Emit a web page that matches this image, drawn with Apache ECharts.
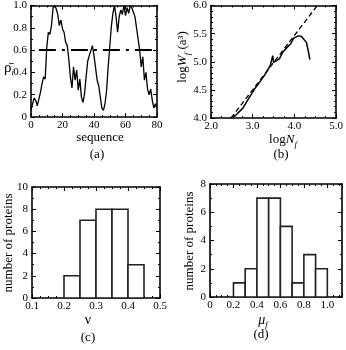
<!DOCTYPE html>
<html>
<head>
<meta charset="utf-8">
<script src="https://cdn.jsdelivr.net/npm/echarts@6/dist/echarts.min.js"></script>
<style>html,body{margin:0;padding:0;background:#fff;}#c{width:346px;height:350px;}</style>
</head>
<body>
<div id="c"></div>
<script>
// (a) averaged density along the sequence
const rhoValues = [0.06,0.12,0.17,0.15,0.10,0.16,0.22,0.30,0.36,0.34,
  0.62,0.76,0.74,0.82,0.98,1.00,0.97,0.92,0.82,0.87,
  0.79,0.76,0.67,0.64,0.52,0.36,0.26,0.45,0.33,0.42,
  0.24,0.34,0.18,0.13,0.21,0.36,0.50,0.55,0.54,0.64,
  0.55,0.44,0.33,0.28,0.18,0.08,0.06,0.12,0.24,0.45,
  0.63,0.81,0.93,1.00,0.90,0.76,0.90,0.96,0.92,1.00,
  0.91,0.98,0.93,1.00,0.98,0.94,0.90,0.80,0.70,0.60,
  0.45,0.54,0.33,0.40,0.25,0.20,0.25,0.15,0.08,0.12,0.08];
const thresholdX = [5, 80];
const thresholdY = [0.6, 0.6];
// (b) log W_f vs log N_f
const logN = [2.47,2.58,2.77,2.89,3.04,3.19,3.30,3.42,3.48,3.50,3.57,3.64,3.72,3.83,3.91,3.98,4.10,4.17,4.29,4.33,4.37];
const logW = [4.00,4.04,4.18,4.33,4.51,4.66,4.78,4.93,5.11,4.99,5.02,5.05,5.17,5.26,5.32,5.42,5.46,5.45,5.34,5.20,5.04];
const fitN = [2.48, 4.55];
const fitW = [4.00, 6.00];
// (c) histogram of nu
const nuEdges = [0.20,0.25,0.30,0.35,0.40,0.45];
const nuCounts = [2,7,8,8,3];
// (d) histogram of mu_f
const muEdges = [0.2,0.3,0.4,0.5,0.6,0.7,0.8,0.9,1.0];
const muCounts = [1,2,7,7,5,1,3,2];

const F = 'Liberation Serif';
const chart = echarts.init(document.getElementById('c'), null, {renderer:'canvas'});

function ax(dim, grid, min, max, interval, fmt, split, main, extra) {
  const o = {
    type:'value', gridIndex:grid, min:min, max:max, interval:interval,
    position: dim==='x' ? (main?'bottom':'top') : (main?'left':'right'),
    axisLine:{show:true, onZero:false, lineStyle:{color:'#000', width:1.6}},
    axisTick:{show:true, inside:true, length:4, lineStyle:{color:'#000', width:1}},
    minorTick:{show:true, splitNumber:split, length:2, lineStyle:{color:'#000', width:1}},
    splitLine:{show:false},
    axisLabel:{show:main, formatter:fmt, margin:dim==='x'?3:4, color:'#000', fontFamily:F, fontSize:11}
  };
  if (extra) Object.assign(o.axisLabel, extra);
  return o;
}
const f1 = v => v.toFixed(1);
const f0 = v => Math.abs(v) < 1e-9 ? '0' : v.toFixed(1);
const fi = v => String(Math.round(v));

function histData(edges, counts) {
  return counts.map((c, i) => [edges[i], edges[i+1], c]);
}
function renderBar(params, api) {
  const p0 = api.coord([api.value(0), 0]);
  const p1 = api.coord([api.value(1), api.value(2)]);
  return {type:'rect', shape:{x:p0[0], y:p1[1], width:p1[0]-p0[0], height:p0[1]-p1[1]},
    style:{fill:'#fff', stroke:'#222', lineWidth:1.6}};
}

const txt = (x, y, text, rich, rot, size) => ({
  type:'text', x:x, y:y, rotation: rot || 0,
  style:{text:text, rich:rich || {}, fontFamily:F, fontSize:size||13, fill:'#000',
    align:'center', verticalAlign:'middle'}
});
const sub = {fontFamily:F, fontSize:9, fontStyle:'italic', verticalAlign:'bottom', lineHeight:18};
const base = {fontFamily:F, fontSize:13, lineHeight:18};
const ital = {fontFamily:F, fontSize:13, fontStyle:'italic', lineHeight:18};

chart.setOption({
  animation:false,
  grid:[
    {left:31, top:5, width:126, height:112},
    {left:211, top:5, width:132, height:113},
    {left:32, top:187, width:128, height:111},
    {left:210, top:184, width:132, height:113}
  ],
  xAxis:[
    ax('x',0,0,80,20,fi,4,true), ax('x',0,0,80,20,fi,4,false),
    ax('x',1,2,5,1,f1,4,true), ax('x',1,2,5,1,f1,4,false),
    ax('x',2,0.1,0.5,0.1,f1,4,true), ax('x',2,0.1,0.5,0.1,f1,4,false),
    ax('x',3,0,1.125,0.2,f0,4,true,{showMaxLabel:false}), ax('x',3,0,1.125,0.2,f0,4,false)
  ],
  yAxis:[
    ax('y',0,0,1,0.2,f0,2,true), ax('y',0,0,1,0.2,f0,2,false),
    ax('y',1,4,6,0.5,f1,5,true), ax('y',1,4,6,0.5,f1,5,false),
    ax('y',2,0,10,2,fi,2,true), ax('y',2,0,10,2,fi,2,false),
    ax('y',3,0,8,2,fi,2,true), ax('y',3,0,8,2,fi,2,false)
  ],
  series:[
    {type:'line', xAxisIndex:0, yAxisIndex:0, showSymbol:false, silent:true,
     data: rhoValues.map((v,i)=>[i,v]), lineStyle:{color:'#000', width:1.3}},
    {type:'line', xAxisIndex:0, yAxisIndex:0, showSymbol:false, silent:true,
     data: thresholdX.map((x,i)=>[x,thresholdY[i]]), lineStyle:{color:'#000', width:2, type:[17,6,3,6]}},
    {type:'line', xAxisIndex:2, yAxisIndex:2, showSymbol:false, silent:true,
     data: fitN.map((x,i)=>[x,fitW[i]]), lineStyle:{color:'#000', width:1.3, type:[5,3]}},
    {type:'line', xAxisIndex:2, yAxisIndex:2, showSymbol:false, silent:true,
     data: logN.map((x,i)=>[x,logW[i]]), lineStyle:{color:'#000', width:1.5}},
    {type:'custom', xAxisIndex:4, yAxisIndex:4, renderItem:renderBar, encode:{x:[0,1], y:2},
     data: histData(nuEdges, nuCounts)},
    {type:'custom', xAxisIndex:6, yAxisIndex:6, renderItem:renderBar, encode:{x:[0,1], y:2},
     data: histData(muEdges, muCounts)}
  ],
  graphic:[
    txt(100,138,'sequence'),
    txt(97,155,'(a)'),
    txt(283,140,'{a|log}{b|N}{c|f}', {a:base, b:ital, c:sub}),
    txt(281,155,'(b)'),
    txt(88,320,'ν', null, 0, 14),
    txt(88,338,'(c)'),
    txt(263,320,'{b|μ}{c|f}', {b:{fontFamily:F, fontSize:14, fontStyle:'italic', lineHeight:18}, c:sub}),
    txt(261,335,'(d)'),
    txt(9,68,'{b|ρ̄}{c|i}', {b:{fontFamily:F, fontSize:15, lineHeight:18}, c:sub}),
    txt(183,57,'{a|log}{b|W}{c|f}{a| (a³)}', {a:base, b:ital, c:sub}, Math.PI/2),
    txt(9,243,'number of proteins', null, Math.PI/2),
    txt(190,241,'number of proteins', null, Math.PI/2)
  ]
});
</script>
</body>
</html>
